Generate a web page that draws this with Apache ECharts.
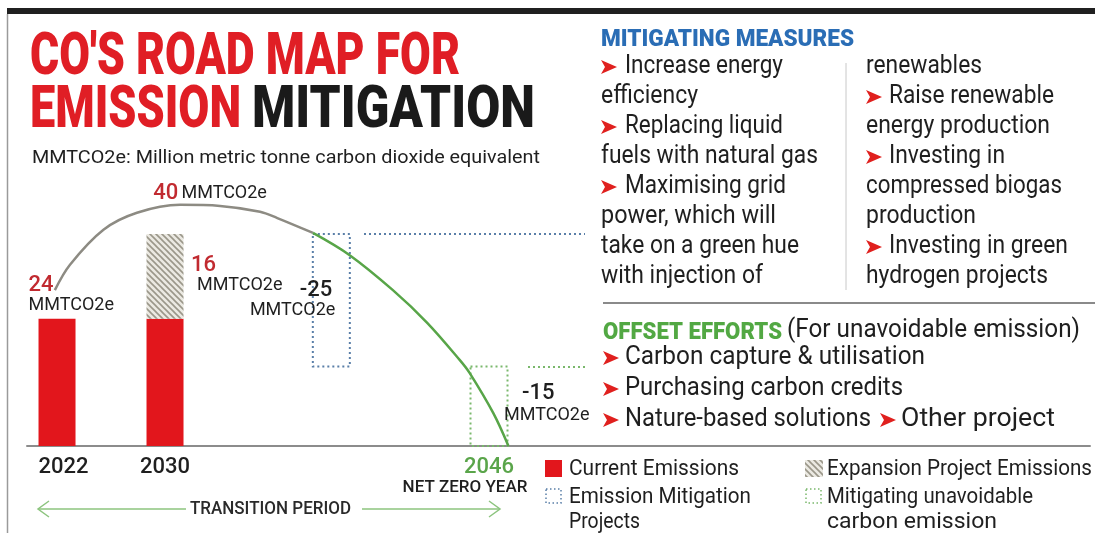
<!DOCTYPE html>
<html><head><meta charset="utf-8">
<script src="https://cdn.jsdelivr.net/npm/echarts@6/dist/echarts.min.js"></script>
<style>html,body{margin:0;padding:0;background:#fff}#c{width:1095px;height:533px}</style>
</head><body><div id="c"></div><script>
// ---------------- data ----------------
const years = ['2022', '2030', '2046'];
const yearSlots = [0, 1, 4];                 // timeline position of each year (infographic is not to scale)
const currentEmissions = [24, 24];           // MMTCO2e in 2022 and 2030
const expansionEmissions = [16];             // added by expansion projects by 2030
const mitigationSlot = 2.54;                 // timeline position of the mitigation block
const mitigationRange = [15, 25];            // base, reduction (-25 MMTCO2e)
const offsetValue = [15];                    // unavoidable emission offset at 2046 (-15)
const curveX = [-0.02, 0.12, 0.43, 0.74, 1.14, 1.51, 1.88, 2.04, 2.37, 2.71, 3.11, 3.43, 3.73, 3.82, 4.04, 4.18];
const curveY = [29.4, 34.2, 40.8, 44.0, 45.5, 45.3, 44.2, 43.0, 40.2, 36.0, 29.4, 23.2, 16.2, 13.8, 6.2, 0];
const greenFromX = 2.37;                     // curve turns green where mitigation starts
const unitLabel = 'MMTCO2e';

const measures = [
  ['Increase energy', true], ['efficiency', false], ['Replacing liquid', true], ['fuels with natural gas', false],
  ['Maximising grid', true], ['power, which will', false], ['take on a green hue', false], ['with injection of', false]
];
const measures2 = [
  ['renewables', false], ['Raise renewable', true], ['energy production', false], ['Investing in', true],
  ['compressed biogas', false], ['production', false], ['Investing in green', true], ['hydrogen projects', false]
];
const offsets = ['Carbon capture & utilisation', 'Purchasing carbon credits', 'Nature-based solutions', 'Other project'];

// ---------------- helpers ----------------
const FONT = 'Roboto, "Noto Sans", sans-serif';
const mctx = document.createElement('canvas').getContext('2d');
function fit(str, left, right, cy, size, weight, color) {
  mctx.font = weight + ' ' + size + 'px ' + FONT;
  const w = mctx.measureText(str).width;
  return { type: 'text', x: left, y: cy, scaleX: (right - left) / w, silent: true,
    style: { text: str, x: 0, y: 0, fill: color, fontSize: size, fontWeight: weight, fontFamily: FONT,
      align: 'left', verticalAlign: 'middle', textAlign: 'left', textVerticalAlign: 'middle' } };
}
function bullet(x, cy) {
  return { type: 'polygon', silent: true, shape: { points: [[x, cy - 7], [x + 16, cy], [x, cy + 7], [x + 4, cy]] },
    style: { fill: '#e0201e' } };
}
function line(x1, y1, x2, y2, stroke, w, dash) {
  return { type: 'line', silent: true, shape: { x1, y1, x2, y2 }, style: { stroke, lineWidth: w, lineDash: dash || null } };
}
function hatchCanvas() {
  const c = document.createElement('canvas'); c.width = 6; c.height = 6;
  const g = c.getContext('2d');
  g.fillStyle = '#ebe9e2'; g.fillRect(0, 0, 6, 6);
  g.strokeStyle = '#9b978a'; g.lineWidth = 1.6;
  g.beginPath(); g.moveTo(-1, -1); g.lineTo(7, 7); g.moveTo(-1, 5); g.lineTo(1, 7); g.moveTo(5, -1); g.lineTo(7, 1); g.stroke();
  return c;
}
const hatch = { image: hatchCanvas(), repeat: 'repeat' };

const RED = '#e2161c', NUMRED = '#c12a30', BLUE = '#5a7fa8', GREEN = '#7ab86c', TXT = '#1f1f1f';
const richZ = {
  r: { fontSize: 22, fill: NUMRED, fontFamily: FONT, fontWeight: 500, lineHeight: 21 },
  k: { fontSize: 22, fill: TXT, fontFamily: FONT, fontWeight: 500, lineHeight: 21 },
  u: { fontSize: 18, fill: TXT, fontFamily: FONT, lineHeight: 20 }
};

// custom "range bar": data item = [slot, from, to]
const BAR_W = 37;
function rangeBar(style, labelFn) {
  return function (params, api) {
    const x = api.value(0), y0 = api.value(1), y1 = api.value(2);
    const p0 = api.coord([x, y0]), p1 = api.coord([x, y1]);
    const el = { type: 'rect', shape: { x: p0[0] - BAR_W / 2, y: p1[1], width: BAR_W, height: p0[1] - p1[1] },
      style: Object.assign({}, style) };
    const lab = labelFn ? labelFn(params.dataIndex, y1 - y0) : null;
    if (lab) {
      el.textContent = { style: { text: lab.text, rich: lab.rich || richZ, align: lab.align, verticalAlign: 'top', fill: TXT } };
      el.textConfig = { position: lab.pos, inside: false };
    }
    return el;
  };
}

// ---------------- graphic (text panels) ----------------
const g = [];
g.push({ type: 'rect', silent: true, shape: { x: 7, y: 8, width: 1088, height: 6 }, style: { fill: '#202020' } });
g.push(line(7.5, 14, 7.5, 533, '#9a9a9a', 1.5));
g.push(fit("CO'S ROAD MAP FOR", 30, 460, 54.5 + 4, 60, 900, '#e01e25'));
g.push(fit('EMISSION', 30, 241, 107.5 + 4, 60, 900, '#e01e25'));
g.push(fit('MITIGATION', 252, 535, 107.5 + 4, 60, 900, '#1a1a1a'));
g.push(fit('MMTCO2e: Million metric tonne carbon dioxide equivalent', 32, 540, 157.5 + 1, 19, 400, TXT));

g.push(fit('MITIGATING MEASURES', 601, 854, 38 + 1.5, 24, 900, '#2a6db5'));
const rowY = [67, 97, 127, 157, 187, 217, 247, 277];
const rights1 = [783, 698, 783, 818, 786, 776, 799, 763];
const rights2 = [982, 1054, 1050, 1005, 1062, 976, 1068, 1048];
measures.forEach((m, i) => {
  if (m[1]) { g.push(bullet(601, rowY[i])); }
  g.push(fit(m[0], m[1] ? 625 : 601, rights1[i], rowY[i], 25, 400, TXT));
});
measures2.forEach((m, i) => {
  if (m[1]) { g.push(bullet(866, rowY[i])); }
  g.push(fit(m[0], m[1] ? 889 : 866, rights2[i], rowY[i], 25, 400, TXT));
});
g.push(line(846, 63, 846, 290, '#c8c8c8', 1));
g.push(line(603, 303, 1095, 303, '#8a8a8a', 2));

g.push(fit('OFFSET EFFORTS', 603, 782, 331 + 1.5, 24, 900, '#52a843'));
g.push(fit('(For unavoidable emission)', 787, 1080, 331, 25, 400, TXT));
const offY = [358, 389, 420, 420];
const offL = [625, 625, 625, 901], offR = [925, 903, 871, 1055], offB = [603, 603, 603, 880];
offsets.forEach((t, i) => { g.push(bullet(offB[i], offY[i])); g.push(fit(t, offL[i], offR[i], offY[i], 25, 400, TXT)); });

// connectors from the blocks to the text panels
g.push(line(364, 234, 585, 234, BLUE, 2, [2, 3]));
g.push(line(528, 367, 585, 367, GREEN, 2, [2, 3]));

// legend
g.push({ type: 'rect', silent: true, shape: { x: 545, y: 460, width: 17, height: 17 }, style: { fill: RED } });
g.push(fit('Current Emissions', 569, 739, 469, 22, 400, TXT));
g.push({ type: 'rect', silent: true, shape: { x: 546, y: 489, width: 15, height: 14 }, style: { fill: 'none', stroke: BLUE, lineWidth: 1.5, lineDash: [1.5, 2.5] } });
g.push(fit('Emission Mitigation', 569, 751, 497, 22, 400, TXT));
g.push(fit('Projects', 569, 640, 522, 22, 400, TXT));
g.push({ type: 'rect', silent: true, shape: { x: 805, y: 460, width: 18, height: 17 }, style: { fill: hatch } });
g.push(fit('Expansion Project Emissions', 827, 1092, 469, 22, 400, TXT));
g.push({ type: 'rect', silent: true, shape: { x: 806, y: 489, width: 15, height: 14 }, style: { fill: 'none', stroke: GREEN, lineWidth: 1.5, lineDash: [1.5, 2.5] } });
g.push(fit('Mitigating unavoidable', 827, 1033, 497, 22, 400, TXT));
g.push(fit('carbon emission', 827, 997, 522, 22, 400, TXT));

// transition period arrow
const AR = '#8cc47e';
g.push(line(38, 509, 186, 509, AR, 1.5));
g.push(line(362, 509, 500, 509, AR, 1.5));
g.push({ type: 'polyline', silent: true, shape: { points: [[49, 501], [38, 509], [49, 517]] }, style: { stroke: AR, lineWidth: 1.5, fill: 'none' } });
g.push({ type: 'polyline', silent: true, shape: { points: [[489, 501], [500, 509], [489, 517]] }, style: { stroke: AR, lineWidth: 1.5, fill: 'none' } });
g.push(fit('TRANSITION PERIOD', 190, 351, 509, 18, 500, '#2a2a2a'));

// ---------------- chart data built from the arrays ----------------
const currentData = currentEmissions.map((v, i) => [yearSlots[i], 0, v]);
const expansionData = expansionEmissions.map(v => [yearSlots[1], currentEmissions[1], currentEmissions[1] + v]);
const mitigationData = [[mitigationSlot, mitigationRange[0], mitigationRange[0] + mitigationRange[1]]];
const offsetData = offsetValue.map(v => [yearSlots[2], 0, v]);
const curvePts = curveX.map((x, i) => [x, curveY[i]]);
const grayPts = curvePts.filter(p => p[0] <= greenFromX);
const greenPts = curvePts.filter(p => p[0] >= greenFromX);
const peakIdx = curveY.indexOf(Math.max(...curveY));
const totalPeak = currentEmissions[1] + expansionEmissions[0];

const option = {
  animation: false,
  backgroundColor: '#ffffff',
  grid: { left: 27, right: 5, top: 128, bottom: 87, containLabel: false, outerBoundsMode: 'none' },
  xAxis: {
    type: 'value', min: -0.278, max: 9.565,
    splitLine: { show: false }, axisTick: { show: false },
    axisLine: { show: true, lineStyle: { color: '#8c8c8c', width: 2 } },
    axisLabel: {
      customValues: yearSlots, margin: 9, verticalAlign: 'top',
      formatter: function (v) {
        const i = yearSlots.indexOf(v);
        if (i === 0) return '{a|' + years[i] + '}';
        if (i === 1) return '{b|' + years[i] + '}';
        if (i === 2) return '{g|' + years[i] + '}\n{n|NET ZERO YEAR}';
        return '';
      },
      rich: {
        a: { fontSize: 22, fontWeight: 500, color: TXT, fontFamily: FONT, lineHeight: 24, padding: [0, 0, 0, 13] },
        b: { fontSize: 22, fontWeight: 500, color: TXT, fontFamily: FONT, lineHeight: 24 },
        g: { fontSize: 22, fontWeight: 500, color: '#5aa54a', fontFamily: FONT, lineHeight: 24 },
        n: { fontSize: 17, fontWeight: 500, color: TXT, fontFamily: FONT, lineHeight: 18, padding: [0, 48, 0, 0] }
      }
    }
  },
  yAxis: { type: 'value', min: 0, max: 60, show: false, splitLine: { show: false } },
  series: [
    {
      name: 'Current Emissions', type: 'custom', encode: { x: 0, y: [1, 2] },
      renderItem: rangeBar({ fill: RED }, (i, v) => i === 0 ? {
        text: '{r|' + v + '}\n{u|' + unitLabel + '}', pos: [-10, -44], align: 'left' } : null),
      data: currentData
    },
    {
      name: 'Expansion Project Emissions', type: 'custom', encode: { x: 0, y: [1, 2] },
      renderItem: rangeBar({ fill: hatch }, (i, v) => ({
        text: '{r|' + v + '}\n{w|' + unitLabel + '}', pos: [44.5, 21], align: 'left',
        rich: Object.assign({}, richZ, { w: { fontSize: 18, fill: TXT, fontFamily: FONT, lineHeight: 18, padding: [0, 0, 0, 6] } }) })),
      data: expansionData
    },
    {
      name: 'Emission Mitigation Projects', type: 'custom', encode: { x: 0, y: [1, 2] },
      renderItem: rangeBar({ fill: 'none', stroke: BLUE, lineWidth: 2, lineDash: [2, 3] }, (i, v) => ({
        text: '{k|-' + v + '}\n{u|' + unitLabel + '}', pos: [25, 48], align: 'right',
        rich: Object.assign({}, richZ, { k: { fontSize: 22, fill: TXT, fontFamily: FONT, fontWeight: 500, lineHeight: 21, padding: [0, 3, 0, 0] } }) })),
      data: mitigationData
    },
    {
      name: 'Mitigating unavoidable carbon emission', type: 'custom', encode: { x: 0, y: [1, 2] },
      renderItem: rangeBar({ fill: 'none', stroke: GREEN, lineWidth: 2, lineDash: [2, 3] }, (i, v) => ({
        text: '{k|-' + v + '}\n{u|' + unitLabel + '}', pos: [36, 17], align: 'left',
        rich: Object.assign({}, richZ, { k: { fontSize: 22, fill: TXT, fontFamily: FONT, fontWeight: 500, lineHeight: 24, padding: [0, 0, 0, 18] } }) })),
      data: offsetData
    },
    {
      name: 'Emission pathway', type: 'line', smooth: 0.35, symbol: 'none', z: 5,
      lineStyle: { width: 2.5, color: '#8d8b83' }, itemStyle: { color: '#8d8b83' },
      data: grayPts,
      markPoint: {
        symbol: 'circle', symbolSize: 0, silent: true,
        data: [{ coord: curvePts[peakIdx] }],
        label: { show: true, position: [-27, -11], align: 'left', verticalAlign: 'middle',
          formatter: '{r|' + totalPeak + '} {u|' + unitLabel + '}',
          rich: {
            r: { fontSize: 22, color: NUMRED, fontFamily: FONT, fontWeight: 500 },
            u: { fontSize: 18, color: TXT, fontFamily: FONT }
          } }
      }
    },
    {
      name: 'Emission pathway (mitigated)', type: 'line', smooth: 0.35, symbol: 'none', z: 5,
      lineStyle: { width: 2.5, color: '#58a548' }, itemStyle: { color: '#58a548' },
      data: greenPts
    }
  ],
  graphic: g
};
const chart = echarts.init(document.getElementById('c'));
chart.setOption(option);
</script></body></html>
